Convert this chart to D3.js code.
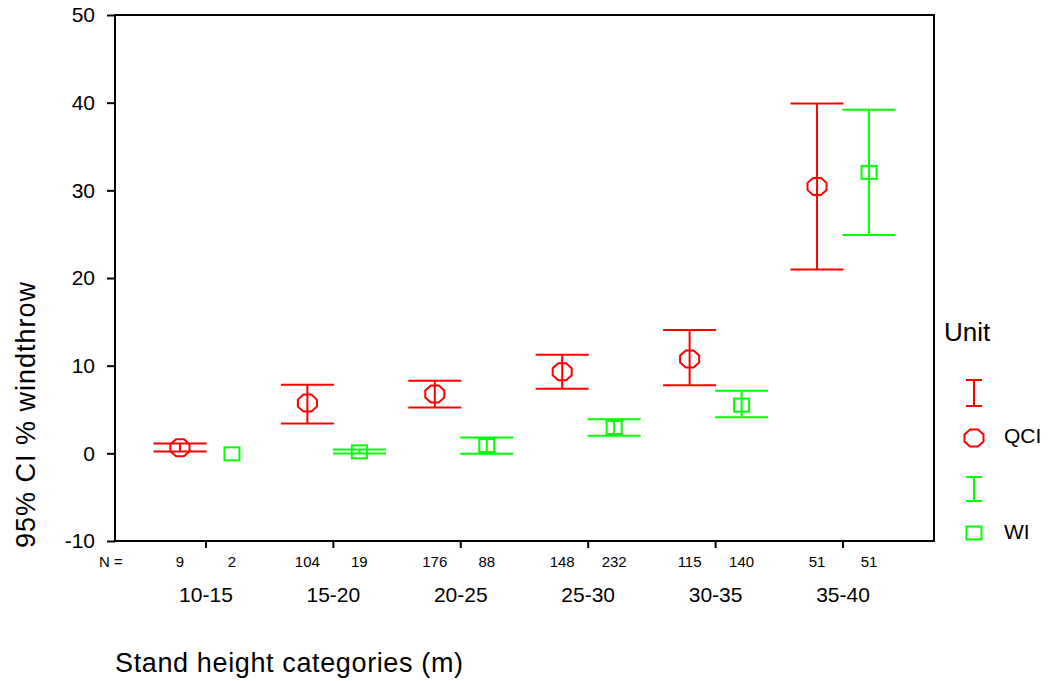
<!DOCTYPE html>
<html>
<head>
<meta charset="utf-8">
<script src="https://cdn.jsdelivr.net/npm/d3@7"></script>
<style>
  html, body { margin: 0; padding: 0; background: #fff; }
  svg { display: block; font-family: Arial, "Liberation Sans", sans-serif; }
</style>
</head>
<body>
<svg id="chart" width="1049" height="681"></svg>
<script>
// Stand height classes
const categories = ["10-15", "15-20", "20-25", "25-30", "30-35", "35-40"];
const units = ["QCI", "WI"];

// QCI: mean % windthrow with 95% confidence limits
const qciMean = [0.63, 5.73, 6.76, 9.30, 10.75, 30.45];
const qciLow  = [0.20, 3.40, 5.23, 7.36, 7.78, 20.98];
const qciHigh = [1.12, 7.82, 8.27, 11.24, 14.06, 39.90];
const qciN    = [9, 104, 176, 148, 115, 51];

// WI: mean % windthrow with 95% confidence limits (none for the 10-15 class)
const wiMean = [-0.06, 0.17, 0.89, 2.94, 5.50, 32.05];
const wiLow  = [null, -0.02, -0.06, 2.00, 4.13, 24.90];
const wiHigh = [null, 0.43, 1.80, 3.90, 7.13, 39.20];
const wiN    = [2, 19, 88, 232, 140, 51];

const yTicks = [-10, 0, 10, 20, 30, 40, 50];

const colors = { QCI: "#ff0000", WI: "#00ff00" };

const svg = d3.select("#chart");
const plotLeft = 115, plotRight = 934, plotTop = 15, plotBottom = 541;

const x = d3.scaleBand().domain(categories).range([plotLeft, plotRight])
  .paddingInner(0).paddingOuter(0.214);
const offset = d3.scalePoint().domain(units).range([-26, 26]);
const y = d3.scaleLinear().domain([-10, 50]).range([plotBottom, plotTop]);

const series = [
  { unit: "QCI", mean: qciMean, low: qciLow, high: qciHigh, n: qciN },
  { unit: "WI",  mean: wiMean,  low: wiLow,  high: wiHigh,  n: wiN }
];

// Frame
svg.append("rect")
  .attr("x", plotLeft).attr("y", plotTop)
  .attr("width", plotRight - plotLeft).attr("height", plotBottom - plotTop)
  .attr("fill", "none").attr("stroke", "#000").attr("stroke-width", 2);

// Y axis (plain hyphen for negatives)
const yAxis = d3.axisLeft(y).tickValues(yTicks).tickSize(8).tickPadding(12)
  .tickFormat(d => String(d));
const gy = svg.append("g").attr("transform", `translate(${plotLeft},0)`).call(yAxis);
gy.select(".domain").remove();
gy.selectAll(".tick line").attr("stroke", "#000").attr("stroke-width", 2);
gy.selectAll(".tick text").attr("font-size", 21).attr("fill", "#000")
  .attr("font-family", "Arial, 'Liberation Sans', sans-serif");

// X axis ticks (category centres)
const xAxis = d3.axisBottom(x).tickSize(7).tickFormat("");
const gx = svg.append("g").attr("transform", `translate(0,${plotBottom})`).call(xAxis);
gx.select(".domain").remove();
gx.selectAll(".tick line").attr("stroke", "#000").attr("stroke-width", 2);

const cx = (cat, unit) => x(cat) + x.bandwidth() / 2 + offset(unit);

// Category labels
svg.append("g").selectAll("text").data(categories).join("text")
  .attr("x", d => x(d) + x.bandwidth() / 2)
  .attr("y", 602)
  .attr("text-anchor", "middle")
  .attr("font-size", 21)
  .text(d => d);

// Case counts
svg.append("text").attr("x", 111).attr("y", 567)
  .attr("text-anchor", "middle").attr("font-size", 15).text("N =");
series.forEach(s => {
  svg.append("g").selectAll("text").data(categories).join("text")
    .attr("x", (d, i) => cx(d, s.unit))
    .attr("y", 567)
    .attr("text-anchor", "middle")
    .attr("font-size", 15)
    .text((d, i) => s.n[i]);
});

// Marker shapes
function octagon(px, py, rx, ry) {
  const pts = d3.range(8).map(k => {
    const a = Math.PI / 8 + k * Math.PI / 4;
    return [px + rx * Math.cos(a), py + ry * Math.sin(a)];
  });
  return d3.line()(pts) + "Z";
}
function drawMarker(g, unit, px, py) {
  if (unit === "QCI") {
    g.append("path").attr("d", octagon(px, py, 10.3, 9.2))
      .attr("fill", "none").attr("stroke", colors.QCI).attr("stroke-width", 2);
  } else {
    g.append("rect").attr("x", px - 7.5).attr("y", py - 6.5)
      .attr("width", 15).attr("height", 13)
      .attr("fill", "none").attr("stroke", colors.WI).attr("stroke-width", 2);
  }
}
function drawErrorBar(g, color, px, y1, y2, capHalf) {
  g.append("line").attr("x1", px).attr("x2", px).attr("y1", y1).attr("y2", y2)
    .attr("stroke", color).attr("stroke-width", 2);
  [y1, y2].forEach(yy => {
    g.append("line").attr("x1", px - capHalf).attr("x2", px + capHalf)
      .attr("y1", yy).attr("y2", yy)
      .attr("stroke", color).attr("stroke-width", 2);
  });
}

// Error bars and means
const plot = svg.append("g");
series.forEach(s => {
  categories.forEach((cat, i) => {
    const px = cx(cat, s.unit);
    if (s.low[i] !== null && s.high[i] !== null) {
      drawErrorBar(plot, colors[s.unit], px, y(s.high[i]), y(s.low[i]), 26.5);
    }
    drawMarker(plot, s.unit, px, y(s.mean[i]));
  });
});

// Axis titles
svg.append("text")
  .attr("x", plotLeft).attr("y", 672)
  .attr("font-size", 27)
  .attr("textLength", 348).attr("lengthAdjust", "spacing")
  .text("Stand height categories (m)");

svg.append("text")
  .attr("transform", "translate(35,415) rotate(-90)")
  .attr("text-anchor", "middle")
  .attr("font-size", 27)
  .attr("textLength", 266).attr("lengthAdjust", "spacing")
  .text("95% CI % windthrow");

// Legend
const legend = svg.append("g");
legend.append("text").attr("x", 944).attr("y", 341).attr("font-size", 26).text("Unit");
const lx = 974;
drawErrorBar(legend, colors.QCI, lx, 380, 406, 8);
drawMarker(legend, "QCI", lx, 438);
legend.append("text").attr("x", 1004).attr("y", 443).attr("font-size", 21).text("QCI");
drawErrorBar(legend, colors.WI, lx, 477, 501, 8);
drawMarker(legend, "WI", lx, 533);
legend.append("text").attr("x", 1004).attr("y", 539).attr("font-size", 21).text("WI");
</script>
</body>
</html>
